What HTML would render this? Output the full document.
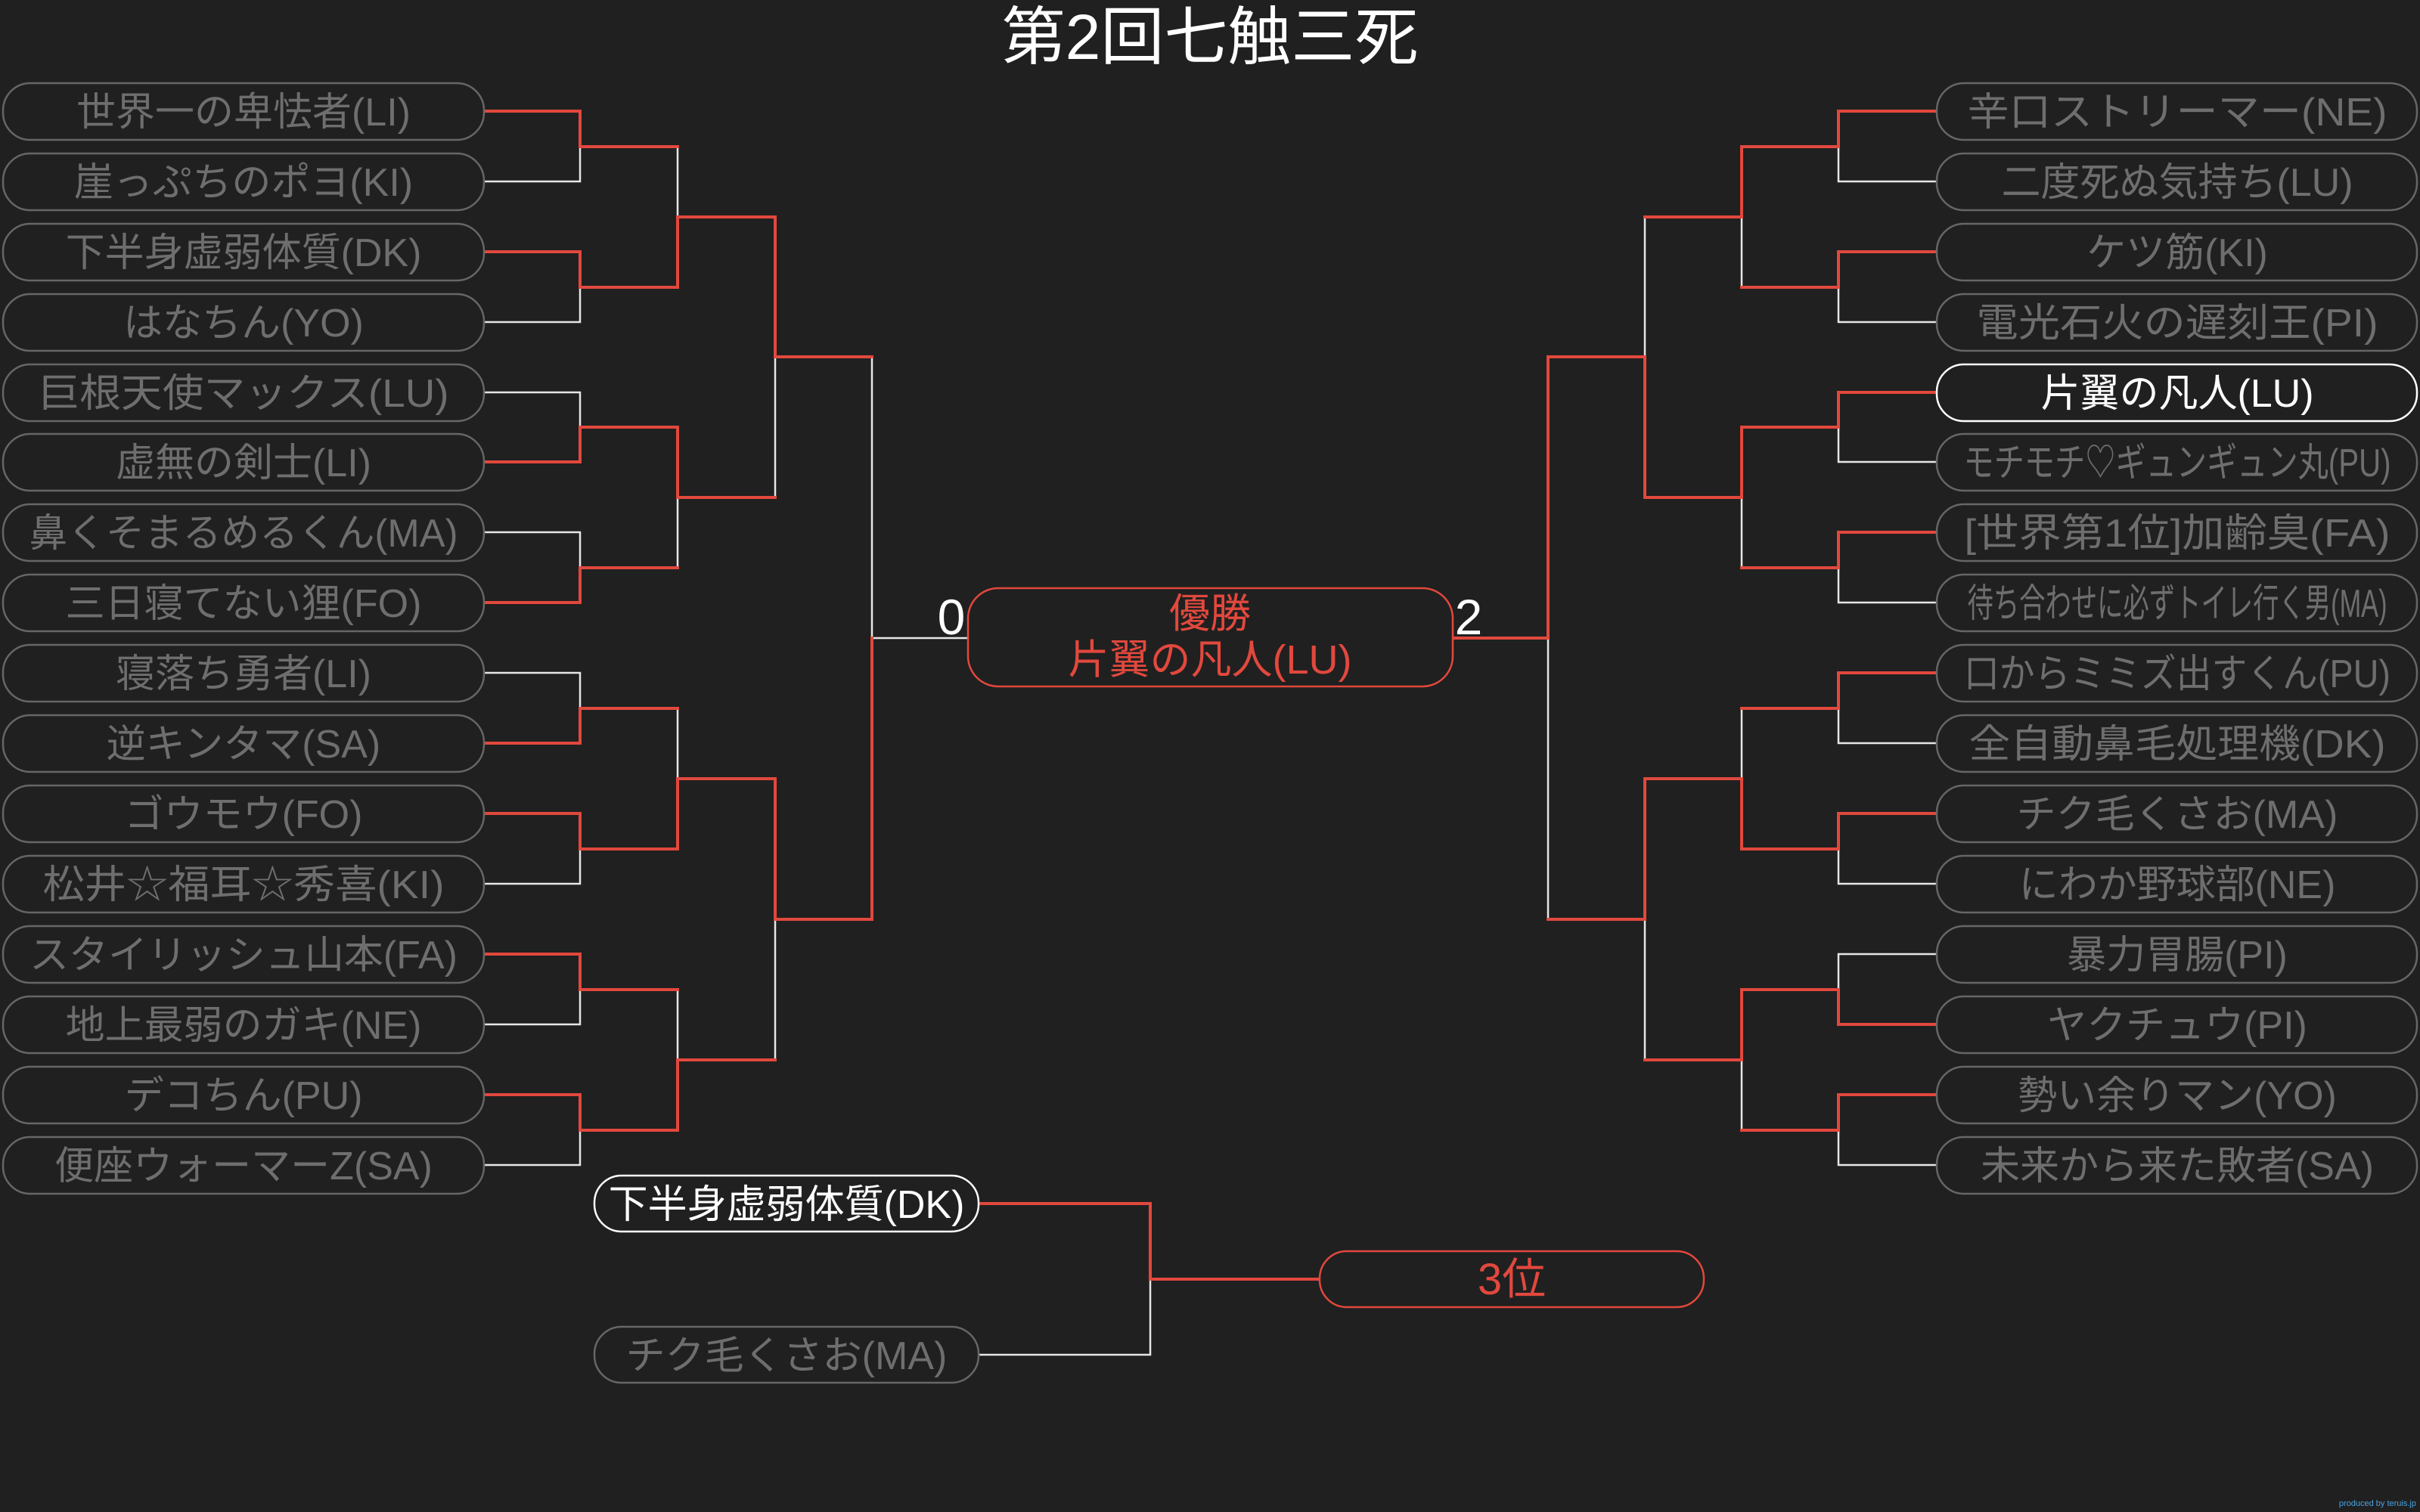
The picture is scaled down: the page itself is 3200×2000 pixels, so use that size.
<!DOCTYPE html>
<html><head><meta charset="utf-8">
<style>
html,body{margin:0;padding:0;background:#202020;}
svg{display:block;}
text{font-family:"Liberation Sans","Noto Sans CJK JP",sans-serif;}
</style></head>
<body>
<svg width="3200" height="2000" viewBox="0 0 3200 2000" xmlns="http://www.w3.org/2000/svg">
<rect width="3200" height="2000" fill="#202020"/>
<text x="1600" y="78" font-size="84" fill="#ffffff" text-anchor="middle">第2回七触三死</text>

<!-- white lines -->
<g stroke="#e6e6e6" stroke-width="2.5" fill="none">
<!-- left R1 -->
<path d="M640 240H767V194"/><path d="M640 426H767V380"/><path d="M640 519H767V565"/><path d="M640 704H767V751"/>
<path d="M640 890H767V937"/><path d="M640 1169H767V1123"/><path d="M640 1355H767V1309"/><path d="M640 1541H767V1495"/>
<!-- left R2 -->
<path d="M896 194V287"/><path d="M896 658V751"/><path d="M896 937V1030"/><path d="M896 1309V1402"/>
<!-- left R3 -->
<path d="M1025 472V658"/><path d="M1025 1216V1402"/>
<!-- left R4 -->
<path d="M1153 472V844H1280"/>
<!-- right R1 -->
<path d="M2560 240H2431V194"/><path d="M2560 426H2431V380"/><path d="M2560 611H2431V565"/><path d="M2560 797H2431V751"/>
<path d="M2560 983H2431V937"/><path d="M2560 1169H2431V1123"/><path d="M2560 1262H2431V1309"/><path d="M2560 1541H2431V1495"/>
<!-- right R2 -->
<path d="M2303 287V380"/><path d="M2303 658V751"/><path d="M2303 937V1030"/><path d="M2303 1402V1495"/>
<!-- right R3 -->
<path d="M2175 287V472"/><path d="M2175 1216V1402"/>
<!-- right R4 -->
<path d="M2047 844V1216"/>
<!-- 3rd place -->
<path d="M1294 1792H1521V1692"/>
</g>

<!-- red lines -->
<g stroke="#e2483d" stroke-width="4" fill="none" stroke-linecap="square" stroke-linejoin="miter">
<path d="M640 147H767V194H896"/><path d="M640 333H767V380H896"/><path d="M640 611H767V565H896"/><path d="M640 797H767V751H896"/>
<path d="M640 983H767V937H896"/><path d="M640 1076H767V1123H896"/><path d="M640 1262H767V1309H896"/><path d="M640 1448H767V1495H896"/>
<path d="M896 380V287H1025"/><path d="M896 565V658H1025"/><path d="M896 1123V1030H1025"/><path d="M896 1495V1402H1025"/>
<path d="M1025 287V472H1153"/><path d="M1025 1030V1216H1153"/>
<path d="M1153 1216V844"/>

<path d="M2560 147H2431V194H2303"/><path d="M2560 333H2431V380H2303"/><path d="M2560 519H2431V565H2303"/><path d="M2560 704H2431V751H2303"/>
<path d="M2560 890H2431V937H2303"/><path d="M2560 1076H2431V1123H2303"/><path d="M2560 1355H2431V1309H2303"/><path d="M2560 1448H2431V1495H2303"/>
<path d="M2303 194V287H2175"/><path d="M2303 565V658H2175"/><path d="M2303 1123V1030H2175"/><path d="M2303 1309V1402H2175"/>
<path d="M2175 658V472H2047"/><path d="M2175 1030V1216H2047"/>
<path d="M2047 472V844H1921"/>

<path d="M1294 1592H1521V1692H1745"/>
</g>

<!-- left boxes -->
<g fill="#202020" stroke="#666666" stroke-width="2.5">
<rect x="4" y="110" width="636" height="75" rx="36"/>
<rect x="4" y="203" width="636" height="75" rx="36"/>
<rect x="4" y="296" width="636" height="75" rx="36"/>
<rect x="4" y="389" width="636" height="75" rx="36"/>
<rect x="4" y="482" width="636" height="75" rx="36"/>
<rect x="4" y="574" width="636" height="75" rx="36"/>
<rect x="4" y="667" width="636" height="75" rx="36"/>
<rect x="4" y="760" width="636" height="75" rx="36"/>
<rect x="4" y="853" width="636" height="75" rx="36"/>
<rect x="4" y="946" width="636" height="75" rx="36"/>
<rect x="4" y="1039" width="636" height="75" rx="36"/>
<rect x="4" y="1132" width="636" height="75" rx="36"/>
<rect x="4" y="1225" width="636" height="75" rx="36"/>
<rect x="4" y="1318" width="636" height="75" rx="36"/>
<rect x="4" y="1411" width="636" height="75" rx="36"/>
<rect x="4" y="1504" width="636" height="75" rx="36"/>
<!-- right -->
<rect x="2561" y="110" width="635" height="75" rx="36"/>
<rect x="2561" y="203" width="635" height="75" rx="36"/>
<rect x="2561" y="296" width="635" height="75" rx="36"/>
<rect x="2561" y="389" width="635" height="75" rx="36"/>
<rect x="2561" y="574" width="635" height="75" rx="36"/>
<rect x="2561" y="667" width="635" height="75" rx="36"/>
<rect x="2561" y="760" width="635" height="75" rx="36"/>
<rect x="2561" y="853" width="635" height="75" rx="36"/>
<rect x="2561" y="946" width="635" height="75" rx="36"/>
<rect x="2561" y="1039" width="635" height="75" rx="36"/>
<rect x="2561" y="1132" width="635" height="75" rx="36"/>
<rect x="2561" y="1225" width="635" height="75" rx="36"/>
<rect x="2561" y="1318" width="635" height="75" rx="36"/>
<rect x="2561" y="1411" width="635" height="75" rx="36"/>
<rect x="2561" y="1504" width="635" height="75" rx="36"/>
<rect x="786" y="1755" width="508" height="74" rx="36"/>
</g>
<g fill="#202020" stroke="#ffffff" stroke-width="2.5">
<rect x="2561" y="482" width="635" height="75" rx="36"/>
<rect x="786" y="1555" width="508" height="74" rx="36"/>
</g>
<g fill="#202020" stroke="#e2483d" stroke-width="2.5">
<rect x="1280" y="778" width="641" height="130" rx="40"/>
<rect x="1745" y="1655" width="508" height="74" rx="36"/>
</g>

<!-- left text -->
<g font-size="52" fill="#6e6e6e" text-anchor="middle">
<text x="322" y="166">世界一の卑怯者(LI)</text>
<text x="322" y="259">崖っぷちのポヨ(KI)</text>
<text x="322" y="352">下半身虚弱体質(DK)</text>
<text x="322" y="445">はなちん(YO)</text>
<text x="322" y="538" textLength="543" lengthAdjust="spacingAndGlyphs">巨根天使マックス(LU)</text>
<text x="322" y="630">虚無の剣士(LI)</text>
<text x="322" y="723" textLength="567" lengthAdjust="spacingAndGlyphs">鼻くそまるめるくん(MA)</text>
<text x="322" y="816">三日寝てない狸(FO)</text>
<text x="322" y="909">寝落ち勇者(LI)</text>
<text x="322" y="1002">逆キンタマ(SA)</text>
<text x="322" y="1095">ゴウモウ(FO)</text>
<text x="322" y="1188" textLength="531" lengthAdjust="spacingAndGlyphs">松井☆福耳☆秀喜(KI)</text>
<text x="322" y="1281" textLength="566" lengthAdjust="spacingAndGlyphs">スタイリッシュ山本(FA)</text>
<text x="322" y="1374">地上最弱のガキ(NE)</text>
<text x="322" y="1467">デコちん(PU)</text>
<text x="322" y="1560">便座ウォーマーZ(SA)</text>
<!-- right -->
<text x="2879" y="166" textLength="555" lengthAdjust="spacingAndGlyphs">辛口ストリーマー(NE)</text>
<text x="2879" y="259">二度死ぬ気持ち(LU)</text>
<text x="2879" y="352">ケツ筋(KI)</text>
<text x="2879" y="445" textLength="531" lengthAdjust="spacingAndGlyphs">電光石火の遅刻王(PI)</text>
<text x="2879" y="630" textLength="565" lengthAdjust="spacingAndGlyphs">モチモチ♡ギュンギュン丸(PU)</text>
<text x="2879" y="723" textLength="563" lengthAdjust="spacingAndGlyphs">[世界第1位]加齢臭(FA)</text>
<text x="2879" y="816" textLength="555" lengthAdjust="spacingAndGlyphs">待ち合わせに必ずトイレ行く男(MA)</text>
<text x="2879" y="909" textLength="564" lengthAdjust="spacingAndGlyphs">口からミミズ出すくん(PU)</text>
<text x="2879" y="1002" textLength="551" lengthAdjust="spacingAndGlyphs">全自動鼻毛処理機(DK)</text>
<text x="2879" y="1095">チク毛くさお(MA)</text>
<text x="2879" y="1188">にわか野球部(NE)</text>
<text x="2879" y="1281">暴力胃腸(PI)</text>
<text x="2879" y="1374">ヤクチュウ(PI)</text>
<text x="2879" y="1467">勢い余りマン(YO)</text>
<text x="2879" y="1560">未来から来た敗者(SA)</text>
<text x="1040" y="1811">チク毛くさお(MA)</text>
</g>
<g font-size="52" fill="#ffffff" text-anchor="middle">
<text x="2879" y="538">片翼の凡人(LU)</text>
<text x="1040" y="1611">下半身虚弱体質(DK)</text>
</g>
<g font-size="54" fill="#e2483d" text-anchor="middle">
<text x="1600" y="830">優勝</text>
<text x="1600" y="891">片翼の凡人(LU)</text>
<text x="1999" y="1712" font-size="58">3位</text>
</g>
<g font-size="66" fill="#ffffff" text-anchor="middle">
<text x="1258" y="839">0</text>
<text x="1942" y="839">2</text>
</g>
<text x="3195" y="1992" font-size="11" fill="#4aa3df" text-anchor="end">produced by teruis.jp</text>
</svg>
</body></html>
